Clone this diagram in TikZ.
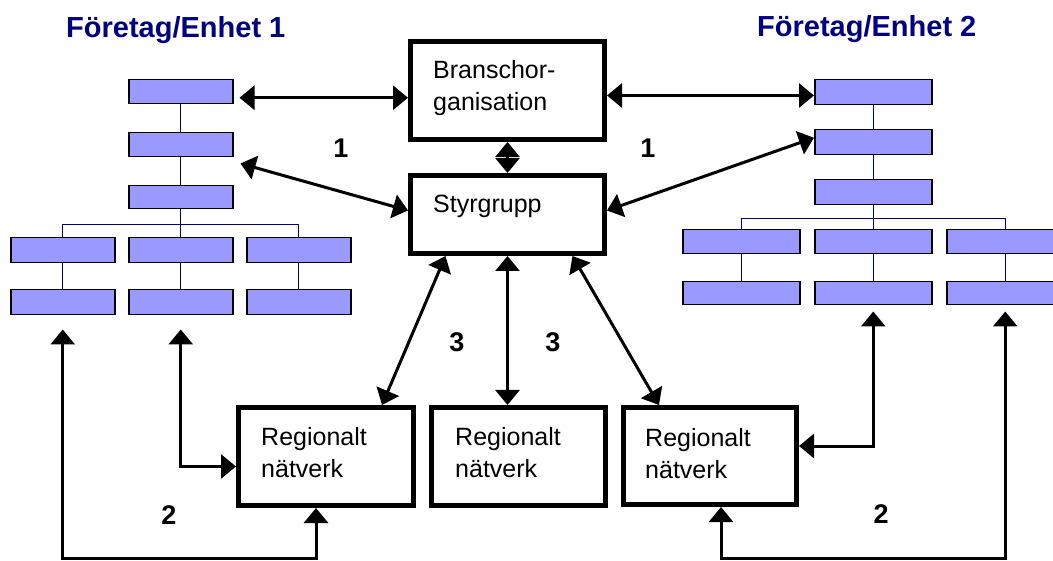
\documentclass[tikz,border=0pt]{standalone}
\usepackage{fontspec}
\setmainfont{Liberation Sans}
\usetikzlibrary{arrows.meta,calc}
\definecolor{orgfill}{HTML}{9999FF}
\definecolor{navy}{HTML}{000080}
\begin{document}
\begin{tikzpicture}[x=1pt,y=-1pt,
  orgbox/.style={rectangle,draw=black,line width=1.5pt,fill=orgfill,inner sep=0pt,anchor=north west},
  orgline/.style={draw=navy,line width=1.3pt},
  bigbox/.style={rectangle,draw=black,line width=5pt,fill=white,inner sep=0pt,anchor=north west},
  boxtext/.style={inner sep=0pt,anchor=north west,align=left,font=\fontsize{25}{32.5}\selectfont},
  title/.style={inner sep=0pt,anchor=base west,text=navy,font=\fontsize{29}{33}\selectfont\bfseries},
  num/.style={inner sep=0pt,font=\fontsize{27}{30}\selectfont\bfseries},
  dbl/.style={line width=3pt,{Triangle[length=15pt,width=24pt]}-{Triangle[length=15pt,width=24pt]}}
]
\clip (0,0) rectangle (1053,561);

% ---- titles ----
\node[title] (t1) at (66,38) {Företag/Enhet 1};
\node[title] (t2) at (757,37) {Företag/Enhet 2};

% ---- organisation chart 1 ----
\begin{scope}[every node/.append style={orgbox,minimum width=104pt}]
\node[minimum height=24pt] (L1) at (128,79) {};
\node[minimum height=24pt] (L2) at (128,132) {};
\node[minimum height=23pt] (L3) at (128,185) {};
\node[minimum height=25pt] (L4a) at (10,237) {};
\node[minimum height=25pt] (L4b) at (128,237) {};
\node[minimum height=25pt] (L4c) at (246,237) {};
\node[minimum height=25pt] (L5a) at (10,289) {};
\node[minimum height=25pt] (L5b) at (128,289) {};
\node[minimum height=25pt] (L5c) at (246,289) {};
\end{scope}
\draw[orgline] (L1.south) -- (L2.north);
\draw[orgline] (L2.south) -- (L3.north);
\draw[orgline] (L3.south) -- (L4b.north);
\coordinate (lbus) at ($(L3.south)+(0,15)$);
\draw[orgline] (L4a.north) |- (lbus) -| (L4c.north);
\draw[orgline] (L4a.south) -- (L5a.north);
\draw[orgline] (L4b.south) -- (L5b.north);
\draw[orgline] (L4c.south) -- (L5c.north);

% ---- organisation chart 2 ----
\begin{scope}[every node/.append style={orgbox,minimum width=117pt}]
\node[minimum height=25pt] (R1) at (814,79) {};
\node[minimum height=25pt] (R2) at (814,129) {};
\node[minimum height=25pt] (R3) at (814,179) {};
\node[minimum height=24pt] (R4a) at (682,229) {};
\node[minimum height=24pt] (R4b) at (814,229) {};
\node[minimum height=24pt] (R4c) at (946,229) {};
\node[minimum height=23pt] (R5a) at (682,281) {};
\node[minimum height=23pt] (R5b) at (814,281) {};
\node[minimum height=23pt] (R5c) at (946,281) {};
\end{scope}
\draw[orgline] (R1.south) -- (R2.north);
\draw[orgline] (R2.south) -- (R3.north);
\draw[orgline] (R3.south) -- (R4b.north);
\coordinate (rbus) at ($(R3.south)+(0,13)$);
\draw[orgline] (R4a.north) |- (rbus) -| (R4c.north);
\draw[orgline] (R4a.south) -- (R5a.north);
\draw[orgline] (R4b.south) -- (R5b.north);
\draw[orgline] (R4c.south) -- (R5c.north);

% ---- central boxes ----
\node[bigbox,minimum width=194pt,minimum height=98pt] (BO) at (408,39) {};
\node[boxtext] (BOt) at (433,60) {Branschor-\\ganisation};
\node[bigbox,minimum width=194pt,minimum height=78pt] (SG) at (408,173) {};
\node[boxtext] (SGt) at (433,195) {Styrgrupp};

% ---- regional networks ----
\node[bigbox,minimum width=175pt,minimum height=98pt] (LR) at (236,405) {};
\node[boxtext] (LRt) at (261,427) {Regionalt\\nätverk};
\node[bigbox,minimum width=174pt,minimum height=98pt] (MR) at (429,405) {};
\node[boxtext] (MRt) at (455,427) {Regionalt\\nätverk};
\node[bigbox,minimum width=173pt,minimum height=97pt] (RR) at (621,405) {};
\node[boxtext] (RRt) at (645,428) {Regionalt\\nätverk};

% ---- links between the units ----
\draw[dbl] ([xshift=6pt,yshift=-6pt]L1.east) -- ([yshift=-6pt]L1.east -| BO.west);
\draw[dbl] ([xshift=7pt,yshift=-6pt]L2.south east) -- ([yshift=4pt]SG.west);
\draw[dbl] ([yshift=-5pt]BO.east) -- ([yshift=-5pt]BO.east -| R1.west);
\draw[dbl] ([yshift=4pt]SG.east) -- ([yshift=4.5pt]R2.west);
\draw[dbl] (BO.south) -- (SG.north);

\draw[dbl] ([xshift=-62pt]SG.south) -- ([xshift=56pt]LR.north);
\draw[dbl] (SG.south) -- (SG.south |- MR.north);
\draw[dbl] ([xshift=65pt]SG.south) -- ([xshift=-51pt]RR.north);

\coordinate (bot) at (0,558);
\draw[dbl] ([yshift=-14pt]L5b.south) |- ([yshift=-10pt]LR.west);
\draw[dbl] ([yshift=-14pt]L5a.south) -- (L5a.south |- bot) -| ([xshift=-10pt]LR.south);
\draw[dbl] ([yshift=-6pt]R5b.south) |- ([yshift=10pt]RR.east);
\draw[dbl] ([yshift=-6pt]R5c.south) -- (R5c.south |- bot) -| ([xshift=11pt]RR.south);

% ---- link numbers ----
\node[num] (n1a) at (341,148) {1};
\node[num] (n1b) at (648,148) {1};
\node[num] (n3a) at (457,342) {3};
\node[num] (n3b) at (553,342) {3};
\node[num] (n2a) at (169,515) {2};
\node[num] (n2b) at (881,514) {2};
\end{tikzpicture}
\end{document}
